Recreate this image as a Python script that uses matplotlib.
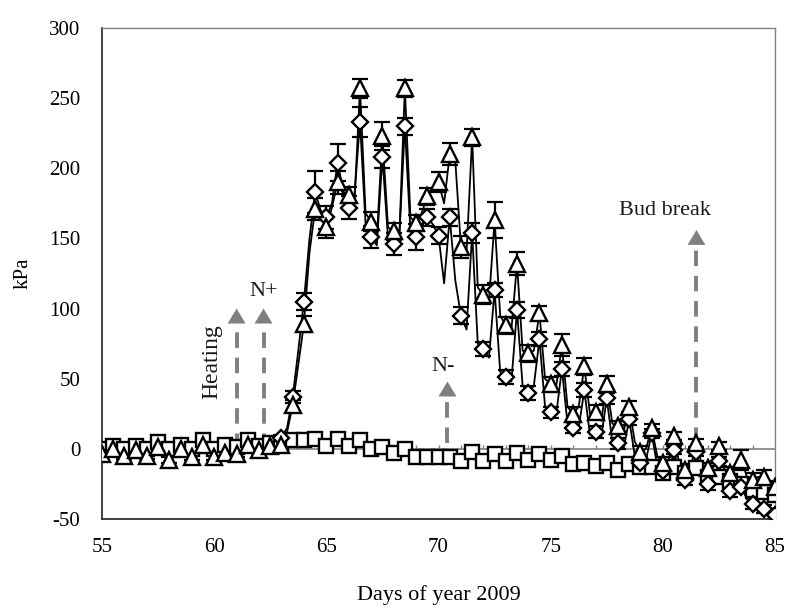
import numpy as np
import matplotlib
matplotlib.use("Agg")
import matplotlib.pyplot as plt

plt.rcParams['font.family'] = ['Liberation Serif', 'DejaVu Serif']
plt.rcParams['axes.unicode_minus'] = False

# ---------------- data ----------------
marker_days = np.arange(55, 85.01, 0.5)          # 61 points
square_vals = [0, 2, 0, 2, 0, 5, 0, 3, 0, 6, 0, 3, 1, 6, 2, 4,
               4, 6, 6, 7, 2, 7, 2, 6, 0, 1, -3, 0, -6, -6, -6, -6,
               -9, -2, -9, -4, -9, -3, -8, -4, -8, -5, -11, -10, -12, -10, -15, -11,
               -13, -13, -17, -13, -17, -14, -20, -20, -23, -25, -29, -31, -33]
triangle_vals = [-4, 0, -5, -1, -5, 1, -8, 0, -6, 3, -6, -3, -4, 3, -1, 2,
                 3, 31, 89, 171, 158, 190, 181, 257, 162, 223, 155, 257, 161, 180, 190, 210,
                 144, 222, 110, 163, 88, 132, 68, 97, 46, 74, 25, 59, 26, 46, 16, 30,
                 -2, 15, -10, 9, -15, 4, -14, 2, -17, -8, -22, -20, -27]
triangle_err = [2] * 16 + [2, 4, 6, 8, 8, 8, 6, 7, 7, 10, 6, 6, 6, 6, 7, 8,
                           8, 6, 7, 13, 6, 8, 6, 5, 5, 8, 5, 6, 5, 6, 4, 4,
                           4, 3, 4, 3, 4, 3, 4, 3, 4, 7, 5, 5, 4]

diamond_days = np.arange(63, 85.01, 0.5)         # 45 points
diamond_vals = [8, 37, 105, 183, 165, 204, 172, 233, 151, 208, 146, 230, 151, 165, 152, 165,
                95, 154, 71, 113, 51, 99, 40, 78, 26, 57, 15, 42, 12, 36, 4, 21,
                -10, 11, -16, -1, -22, -2, -25, -9, -30, -27, -39, -43, -47]
diamond_err = [2, 4, 6, 15, 8, 13, 8, 11, 8, 8, 8, 6, 9, 6, 6, 6,
               6, 7, 5, 5, 5, 6, 5, 5, 4, 5, 4, 5, 4, 4, 4, 4,
               4, 3, 4, 3, 4, 3, 4, 3, 4, 4, 4, 3, 3]

# continuous (high-resolution) records
tri_line_days = np.arange(55, 85.01, 0.25)      # 121 points
tri_line = [-4, -2, 0, -2, -5, -3, -1, -3, -5, -2, 1, -3, -8, -4, 0, -3, -6, -1, 3, -1,
            -6, -4, -3, -3, -4, 0, 3, 1, -1, 1, 2, 3, 3, 12, 31, 60, 89, 140, 171, 168,
            158, 172, 190, 182, 181, 175, 257, 168, 162, 150, 223, 158, 155, 150, 257, 165, 161, 168, 180, 185,
            190, 175, 210, 205, 144, 140, 222, 115, 110, 105, 163, 95, 88, 85, 132, 70, 68, 70, 97, 50,
            46, 45, 74, 30, 25, 30, 59, 25, 26, 20, 46, 18, 16, 12, 30, 5, -2, 0, 15, -5,
            -10, -8, 9, -12, -15, -12, 4, -12, -14, -13, 2, -15, -17, -15, -8, -20, -22, -20, -20, -24, -27]
dia_line_days = np.arange(62.5, 85.01, 0.25)    # 91 points
dia_line = [3, 5, 8, 15, 37, 70, 105, 150, 183, 170,
            165, 175, 204, 185, 172, 180, 233, 160, 151, 145, 208, 150, 146, 150, 230, 155, 151, 160, 165, 160,
            152, 118, 165, 120, 95, 85, 154, 75, 71, 65, 113, 55, 51, 48, 99, 45, 40, 45, 78, 30,
            26, 25, 57, 18, 15, 15, 42, 10, 12, 8, 36, 5, 4, 0, 21, -5, -10, -8, 11, -12,
            -16, -18, -1, -20, -22, -22, -2, -22, -25, -24, -9, -28, -30, -30, -27, -36, -39, -41, -43, -45, -47]

# annotation arrows
arrow_labels = ["Heating", "N+", "N-", "Bud break"]
arrow_x = [61.0, 62.2, 70.4, 81.5]
arrow_bottom = [0, 0, 4, 4]
arrow_top = [100, 100, 48, 156]
label_x = [59.9, 62.2, 70.2, 80.1]
label_y = [62, 112, 59, 170]
label_rot = [90, 0, 0, 0]
label_size = [17, 16, 16, 16]

xticks = [55, 60, 65, 70, 75, 80, 85]
yticks = [-50, 0, 50, 100, 150, 200, 250, 300]

# ---------------- figure ----------------
fig = plt.figure(figsize=(7.89, 6.10), dpi=100)
ax = fig.add_axes([102 / 789, 1 - 519 / 610, (775 - 102) / 789, (519 - 28) / 610])
ax.set_xlim(55, 85)
ax.set_ylim(-50, 300)

gray = '#808080'
ax.axhline(0, color=gray, lw=1.2, zorder=1)
ax.vlines(np.arange(56, 85), 0, 3, color=gray, lw=1, zorder=1)

# arrows
for x, b, t in zip(arrow_x, arrow_bottom, arrow_top):
    ax.plot([x, x], [b, t - 8], color=gray, lw=2.8, ls=(0, (4.0, 2.5)), zorder=1.5,
            solid_capstyle='butt', dash_capstyle='butt')
    ax.annotate('', xy=(x, t), xytext=(x, t - 9),
                arrowprops=dict(arrowstyle='-|>,head_length=0.5,head_width=0.3',
                                color=gray, lw=0.5, mutation_scale=20,
                                shrinkA=0, shrinkB=0), zorder=1.5)
for s, x, y, r, fs in zip(arrow_labels, label_x, label_y, label_rot, label_size):
    ax.text(x, y, s, rotation=r, ha='center', va='center', fontsize=fs, color='#1a1a1a')

# lines
ax.plot(marker_days, square_vals, color='black', lw=1.0, zorder=2)
ax.plot(tri_line_days, tri_line, color='black', lw=1.3, zorder=2)
ax.plot(dia_line_days, dia_line, color='black', lw=1.3, zorder=2)

# error bars
ax.errorbar(marker_days, triangle_vals, yerr=triangle_err, fmt='none', ecolor='black',
            elinewidth=1.6, capsize=5.5, capthick=1.6, zorder=2.5)
ax.errorbar(diamond_days, diamond_vals, yerr=diamond_err, fmt='none', ecolor='black',
            elinewidth=1.6, capsize=5.5, capthick=1.6, zorder=2.5)

# markers
ax.plot(marker_days, square_vals, ls='none', marker='s', ms=9.8, mfc='white',
        mec='black', mew=1.7, zorder=3)
ax.plot(diamond_days, diamond_vals, ls='none', marker='D', ms=8.2, mfc='white',
        mec='black', mew=1.7, zorder=4)
ax.plot(marker_days, triangle_vals, ls='none', marker='^', ms=11.5, mfc='white',
        mec='black', mew=1.7, zorder=5)

# axes styling
ax.set_xticks(xticks)
ax.set_yticks(yticks)
ax.tick_params(axis='both', length=0, labelsize=15)
ax.tick_params(axis='y', pad=15.5)
ax.tick_params(axis='x', pad=14)
for side in ['left', 'bottom']:
    ax.spines[side].set_color('#333333')
    ax.spines[side].set_linewidth(1.3)
for side in ['top', 'right']:
    ax.spines[side].set_color(gray)
    ax.spines[side].set_linewidth(1.0)

ax.set_xlabel('Days of year 2009', fontsize=16, labelpad=20)
ax.set_ylabel('kPa', fontsize=15, labelpad=12)

fig.savefig('out.png', dpi=100)
